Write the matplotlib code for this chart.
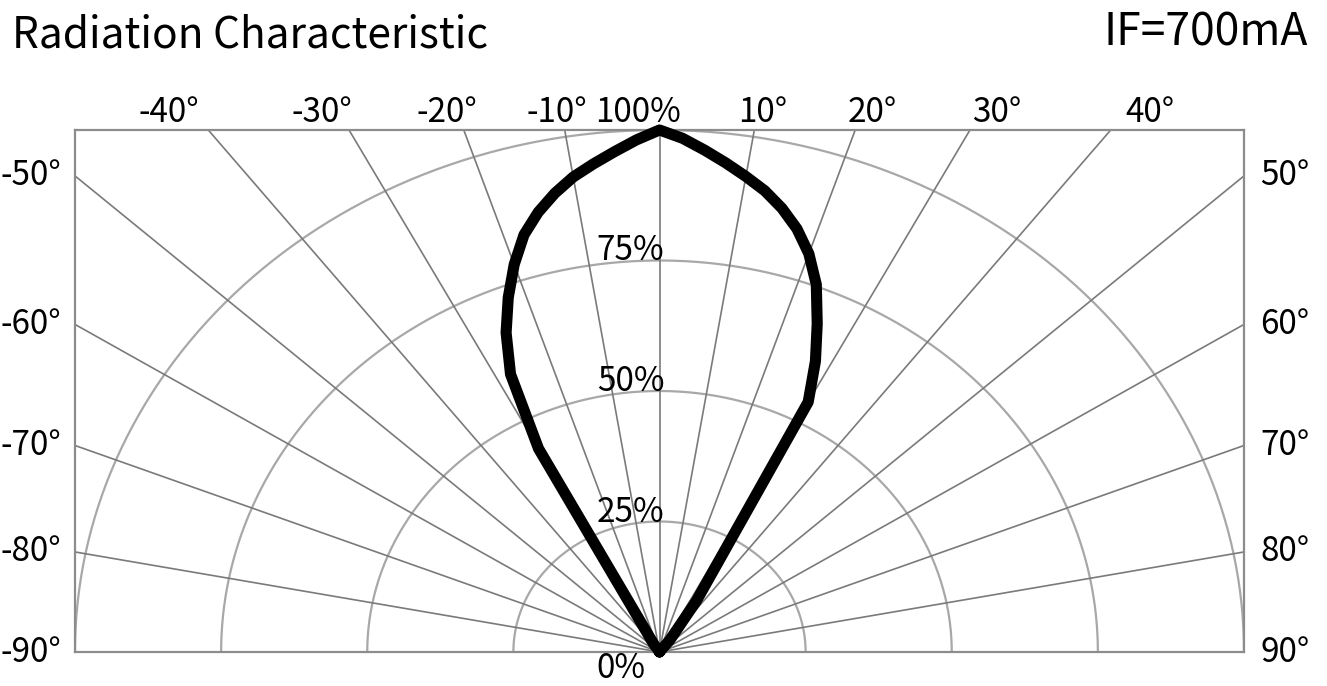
import numpy as np
import matplotlib
matplotlib.use("Agg")
import matplotlib.pyplot as plt

# ---------------- data ----------------
title_text = "Radiation Characteristic"
condition_text = "IF=700mA"

angles_deg = [-90, -80, -70, -60, -50, -45, -40, -35, -30, -27.5, -25, -22.5, -20, -17.5,
              -15, -12.5, -10, -7.5, -5, -2.5, 0, 2.5, 5, 7.5, 10, 12.5, 15, 17.5, 20,
              22.5, 25, 27.5, 30, 35, 40, 45, 50, 60, 70, 80, 90]
intensity = [0.0, 0.0, 0.0, 0.0, 0.0, 0.0, 0.0, 0.02, 0.45, 0.60, 0.675, 0.735, 0.79, 0.838,
             0.872, 0.90, 0.924, 0.943, 0.962, 0.982, 1.0, 0.985, 0.965, 0.945, 0.925, 0.905,
             0.88, 0.85, 0.812, 0.762, 0.694, 0.628, 0.553, 0.12, 0.03, 0.0, 0.0, 0.0, 0.0,
             0.0, 0.0]

spoke_angles = [-90, -80, -70, -60, -50, -40, -30, -20, -10, 0, 10, 20, 30, 40, 50, 60, 70, 80, 90]
top_labels_deg = [-40, -30, -20, -10, 10, 20, 30, 40]
side_labels_deg = [50, 60, 70, 80, 90]
ring_levels = [0.25, 0.5, 0.75, 1.0]
ring_labels = ["25%", "50%", "75%", "100%"]

# ---------------- style ----------------
FONT = ["Noto Sans CJK SC", "DejaVu Sans"]
plt.rcParams["font.family"] = FONT
spoke_color = "#7a7a7a"
ring_color = "#a8a8a8"
frame_color = "#8c8c8c"
k = 0.92  # horizontal stretch of spokes / curve relative to rings

W, H = 1327, 686
fig = plt.figure(figsize=(W / 100, H / 100), dpi=100)
ax = fig.add_axes([75 / W, (H - 652) / H, (1244 - 75) / W, (652 - 130) / H])
ax.set_xlim(-1, 1)
ax.set_ylim(0, 1)
ax.set_xticks([])
ax.set_yticks([])
for s in ax.spines.values():
    s.set_color(frame_color)
    s.set_linewidth(1.6)

# rings
phi = np.radians(np.linspace(-90, 90, 400))
for r in ring_levels:
    ax.plot(r * np.sin(phi), r * np.cos(phi), color=ring_color, lw=1.6, zorder=1)

# spokes
for a in spoke_angles:
    t = np.radians(a)
    ax.plot([0, 3 * k * np.sin(t)], [0, 3 * np.cos(t)], color=spoke_color, lw=1.2, zorder=2)

# curve
th = np.radians(np.array(angles_deg, dtype=float))
rr = np.array(intensity)
ax.plot(k * rr * np.sin(th), rr * np.cos(th), color="black", lw=8,
        solid_joinstyle="round", solid_capstyle="round", zorder=5, clip_on=False)

# labels
fs = 24
for a in top_labels_deg:
    ax.annotate(f"{a}°", xy=(np.tan(np.radians(a)), 1), xycoords="data",
                xytext=(0, 8), textcoords="offset pixels", ha="center", va="baseline",
                fontsize=fs, annotation_clip=False)
for a in side_labels_deg:
    y = (np.cos(np.radians(a)) / np.sin(np.radians(a))) / k
    ax.annotate(f"-{a}°", xy=(-1, y), xycoords="data", xytext=(-75, 0),
                textcoords="offset pixels", ha="left", va="center", fontsize=fs,
                annotation_clip=False)
    ax.annotate(f"{a}°", xy=(1, y), xycoords="data", xytext=(16, 0),
                textcoords="offset pixels", ha="left", va="center", fontsize=fs,
                annotation_clip=False)
for r, lab in zip(ring_levels, ring_labels):
    if r == 1.0:
        off = (21, 8)
    else:
        off = (5, 0)
    ax.annotate(lab, xy=(0, r), xycoords="data", xytext=off,
                textcoords="offset pixels", ha="right", va="baseline", fontsize=fs,
                annotation_clip=False, zorder=6)
ax.annotate("0%", xy=(0, 0), xycoords="data", xytext=(-14, -26),
            textcoords="offset pixels", ha="right", va="baseline", fontsize=fs,
            annotation_clip=False)

fig.text(12 / W, 1 - 47 / H, title_text, fontsize=30.5, ha="left", va="baseline")
fig.text(1308 / W, 1 - 45 / H, condition_text, fontsize=32, ha="right", va="baseline")

fig.savefig("out.png", dpi=100, facecolor="white")
